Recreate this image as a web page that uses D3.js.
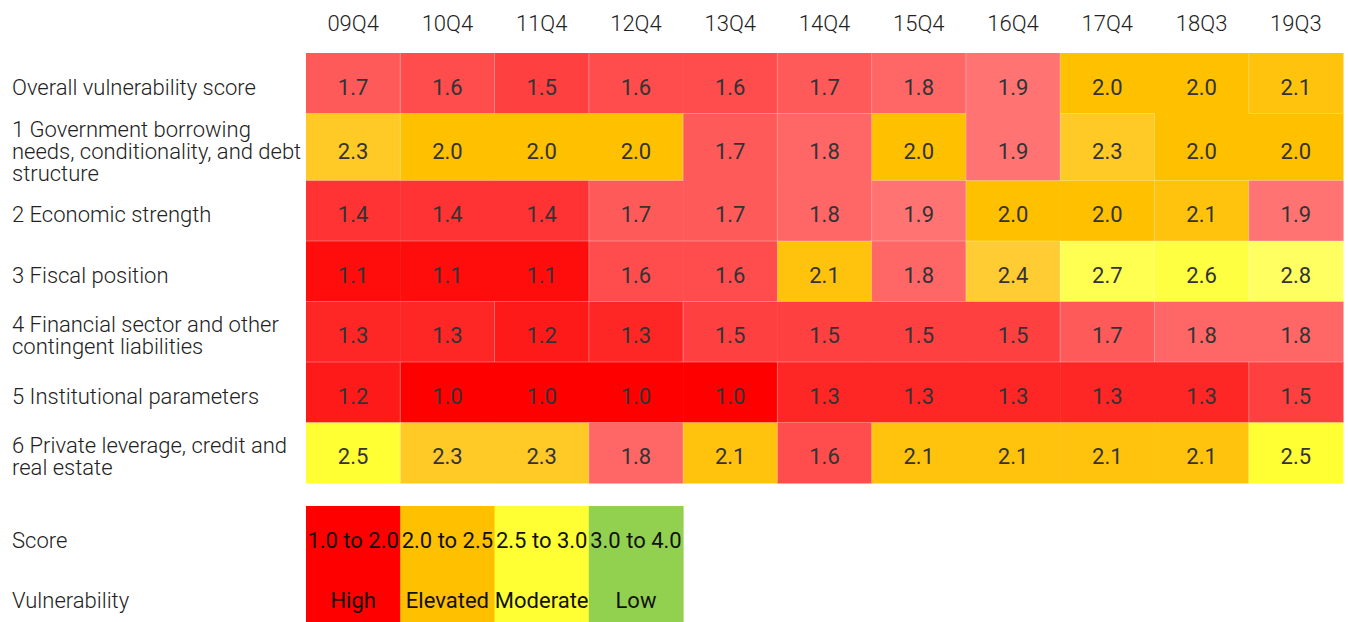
<!DOCTYPE html>
<html>
<head>
<meta charset="utf-8">
<script src="https://cdn.jsdelivr.net/npm/d3@7"></script>
<style>
  html, body { margin: 0; padding: 0; background: #fff; overflow: hidden; }
  text { font-family: Roboto, "Noto Sans", sans-serif; }
</style>
</head>
<body>
<div class="chart"></div>
<script>
// data
var periods = ["09Q4", "10Q4", "11Q4", "12Q4", "13Q4", "14Q4", "15Q4", "16Q4", "17Q4", "18Q3", "19Q3"];

var indicators = [
  ["Overall vulnerability score"],
  ["1 Government borrowing", "needs, conditionality, and debt", "structure"],
  ["2 Economic strength"],
  ["3 Fiscal position"],
  ["4 Financial sector and other", "contingent liabilities"],
  ["5 Institutional parameters"],
  ["6 Private leverage, credit and", "real estate"]
];

var overall       = [1.7, 1.6, 1.5, 1.6, 1.6, 1.7, 1.8, 1.9, 2.0, 2.0, 2.1];
var government    = [2.3, 2.0, 2.0, 2.0, 1.7, 1.8, 2.0, 1.9, 2.3, 2.0, 2.0];
var economic      = [1.4, 1.4, 1.4, 1.7, 1.7, 1.8, 1.9, 2.0, 2.0, 2.1, 1.9];
var fiscal        = [1.1, 1.1, 1.1, 1.6, 1.6, 2.1, 1.8, 2.4, 2.7, 2.6, 2.8];
var financial     = [1.3, 1.3, 1.2, 1.3, 1.5, 1.5, 1.5, 1.5, 1.7, 1.8, 1.8];
var institutional = [1.2, 1.0, 1.0, 1.0, 1.0, 1.3, 1.3, 1.3, 1.3, 1.3, 1.5];
var privateLev    = [2.5, 2.3, 2.3, 1.8, 2.1, 1.6, 2.1, 2.1, 2.1, 2.1, 2.5];

var scoreRanges = ["1.0 to 2.0", "2.0 to 2.5", "2.5 to 3.0", "3.0 to 4.0"];
var levels = ["High", "Elevated", "Moderate", "Low"];

var rows = [overall, government, economic, fiscal, financial, institutional, privateLev];

var width = 1348;
var height = 622;
var fontSize = 22;
var lineH = 22;

var svg = d3.select(".chart")
  .append("svg")
    .attr("width", width)
    .attr("height", height);

var x = d3.scaleBand()
  .domain(periods)
  .range([306, 1343]);

// row heights: taller row when label needs 3 lines
var rowTop = 53;
var rowY = [];
var rowH = [];
indicators.forEach(function(lines, i) {
  var h = Math.max(60.5, lines.length * lineH + 1);
  rowY.push(rowTop);
  rowH.push(h);
  rowTop += h;
});

// colour bands
var redScale = d3.scaleLinear().domain([1, 2]).range(["#ff0000", "#ff8080"]);
var amberScale = d3.scaleLinear().domain([2, 2.5]).range(["#ffc000", "#ffd040"]);
var yellowScale = d3.scaleLinear().domain([2.5, 3]).range(["#ffff33", "#ffff80"]);
function cellColor(v) {
  if (v < 2) return redScale(v);
  if (v < 2.5) return amberScale(v);
  if (v < 3) return yellowScale(v);
  return "#92d050";
}
var legendColor = ["#ff0000", "#ffc000", "#ffff33", "#92d050"];

// header
svg.append("g")
  .selectAll("text")
  .data(periods)
  .enter()
  .append("text")
    .attr("x", function(d) { return x(d) + x.bandwidth() / 2; })
    .attr("y", 31)
    .attr("text-anchor", "middle")
    .style("font-size", fontSize + "px")
    .style("font-weight", 300)
    .style("fill", "#222")
    .text(function(d) { return d; });

// row labels
var labels = svg.append("g")
  .selectAll("text")
  .data(indicators)
  .enter()
  .append("text")
    .attr("x", 12)
    .style("font-size", fontSize + "px")
    .style("font-weight", 300)
    .style("fill", "#222");

labels.each(function(lines, i) {
  var base = rowY[i] + rowH[i] / 2 + 11.5 - (lines.length - 1) * lineH / 2;
  d3.select(this).selectAll("tspan")
    .data(lines)
    .enter()
    .append("tspan")
      .attr("x", 12)
      .attr("y", function(d, j) { return base + j * lineH; })
      .text(function(d) { return d; });
});

// cells
var cells = [];
rows.forEach(function(vals, i) {
  vals.forEach(function(v, j) {
    cells.push({ row: i, col: j, value: v });
  });
});

var cellG = svg.append("g");

cellG.selectAll("rect")
  .data(cells)
  .enter()
  .append("rect")
    .attr("x", function(d) { return x(periods[d.col]); })
    .attr("y", function(d) { return rowY[d.row]; })
    .attr("width", x.bandwidth() + 0.5)
    .attr("height", function(d) { return rowH[d.row] + 0.5; })
    .style("fill", function(d) { return cellColor(d.value); });

// faint borders only where neighbouring values differ
var edges = [];
cells.forEach(function(d) {
  var x0 = x(periods[d.col]), y0 = rowY[d.row];
  if (d.col < periods.length - 1 && rows[d.row][d.col + 1] !== d.value)
    edges.push([x0 + x.bandwidth(), y0, x0 + x.bandwidth(), y0 + rowH[d.row]]);
  if (d.row < rows.length - 1 && rows[d.row + 1][d.col] !== d.value)
    edges.push([x0, y0 + rowH[d.row], x0 + x.bandwidth(), y0 + rowH[d.row]]);
});

cellG.selectAll("line")
  .data(edges)
  .enter()
  .append("line")
    .attr("x1", function(d) { return d[0]; })
    .attr("y1", function(d) { return d[1]; })
    .attr("x2", function(d) { return d[2]; })
    .attr("y2", function(d) { return d[3]; })
    .style("stroke", "#fff")
    .style("stroke-opacity", 0.3)
    .style("stroke-width", 1);

cellG.selectAll("text")
  .data(cells)
  .enter()
  .append("text")
    .attr("x", function(d) { return x(periods[d.col]) + x.bandwidth() / 2; })
    .attr("y", function(d) { return rowY[d.row] + rowH[d.row] / 2 + 11.5; })
    .attr("text-anchor", "middle")
    .style("font-size", fontSize + "px")
    .style("fill", "#333")
    .text(function(d) { return d3.format(".1f")(d.value); });

// legend
var legend = svg.append("g");

legend.selectAll("rect")
  .data(levels)
  .enter()
  .append("rect")
    .attr("x", function(d, i) { return x(periods[i]); })
    .attr("y", 506)
    .attr("width", x.bandwidth() + 0.5)
    .attr("height", 120)
    .style("fill", function(d, i) { return legendColor[i]; });

legend.append("text")
  .attr("x", 12).attr("y", 548)
  .style("font-size", fontSize + "px").style("font-weight", 300).style("fill", "#222")
  .text("Score");

legend.append("text")
  .attr("x", 12).attr("y", 608)
  .style("font-size", fontSize + "px").style("font-weight", 300).style("fill", "#222")
  .text("Vulnerability");

legend.selectAll(".range")
  .data(scoreRanges)
  .enter()
  .append("text")
    .attr("class", "range")
    .attr("x", function(d, i) { return x(periods[i]) + x.bandwidth() / 2; })
    .attr("y", 548)
    .attr("text-anchor", "middle")
    .style("font-size", fontSize + "px")
    .style("fill", "#111")
    .text(function(d) { return d; });

legend.selectAll(".level")
  .data(levels)
  .enter()
  .append("text")
    .attr("class", "level")
    .attr("x", function(d, i) { return x(periods[i]) + x.bandwidth() / 2; })
    .attr("y", 608)
    .attr("text-anchor", "middle")
    .style("font-size", fontSize + "px")
    .style("fill", "#111")
    .text(function(d) { return d; });
</script>
</body>
</html>
